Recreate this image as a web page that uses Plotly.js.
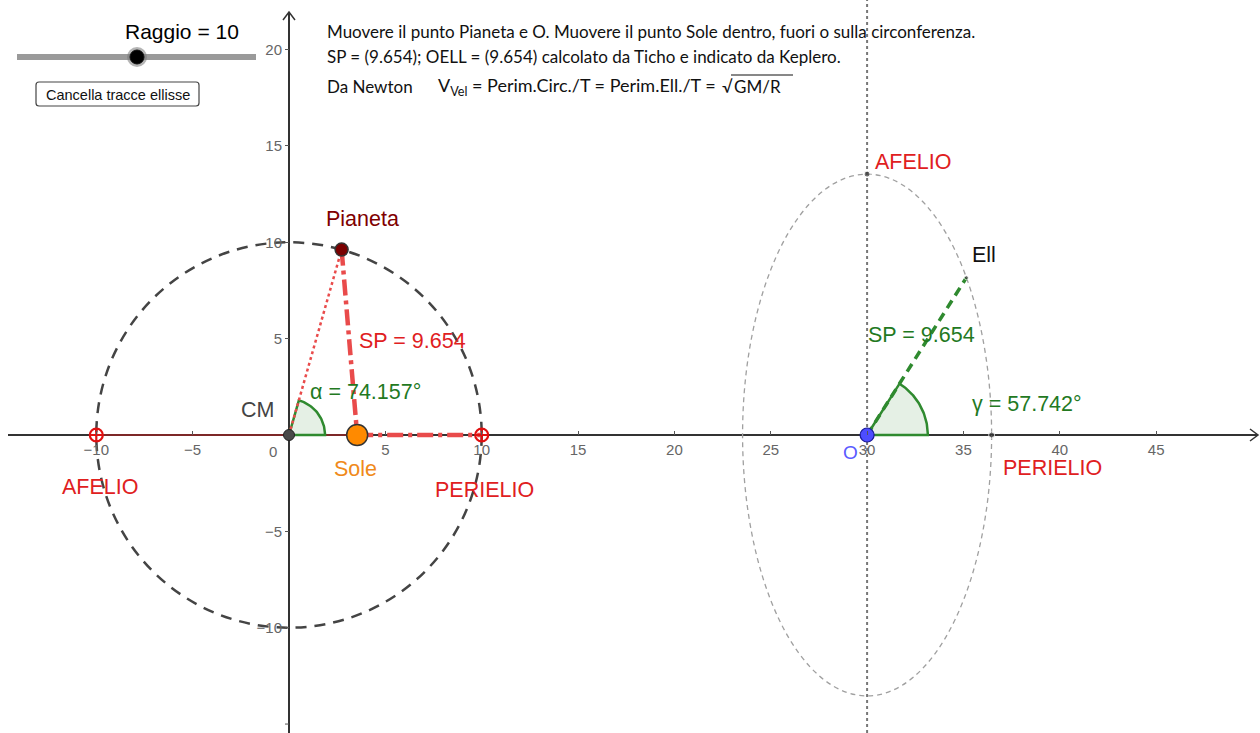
<!DOCTYPE html>
<html>
<head>
<meta charset="utf-8">
<script src="https://cdn.plot.ly/plotly-3.0.1.min.js"></script>
<style>html,body{margin:0;padding:0;background:#fff;} #chart{width:1260px;height:733px;}</style>
</head>
<body>
<div id="chart"></div>
<script>
// ---- data ----
const raggio = 10;            // circle radius R
const soleX = 3.538;          // Sole position on x axis
const alphaDeg = 74.157;      // angle α at CM
const gammaDeg = 57.742;      // angle γ at O
const spLen = 9.654;          // SP distance
const oX = 30;                // point O (ellipse centre)
const xTickVals = [-10, -5, 5, 10, 15, 20, 25, 30, 35, 40, 45];
const xTickText = ['−10', '−5', '5', '10', '15', '20', '25', '30', '35', '40', '45'];
const yTickVals = [-10, -5, 5, 10, 15, 20];
const yTickText = ['−10', '−5', '5', '10', '15', '20'];

// ---- derived geometry ----
const rad = d => d * Math.PI / 180;
const pianeta = [raggio * Math.cos(rad(alphaDeg)), raggio * Math.sin(rad(alphaDeg))];
const ell = [oX + spLen * Math.cos(rad(gammaDeg)), spLen * Math.sin(rad(gammaDeg))];
const ellA = raggio - soleX;   // horizontal semi-axis (perihelion distance)
const ellB = raggio + soleX;   // vertical semi-axis (aphelion distance)

// ---- pixel helpers for layout-only placement ----
const W = 1260, H = 733, PX = 19.27, X0 = 289, Y0 = 435;
const dx = p => (p - X0) / PX;
const dy = p => (Y0 - p) / PX;
const xr = [dx(0), dx(W)];
const yr = [dy(H), dy(0)];

function sector(cx, cy, r, a0, a1) {
  const xs = [cx], ys = [cy];
  const n = 40;
  for (let i = 0; i <= n; i++) {
    const a = rad(a0 + (a1 - a0) * i / n);
    xs.push(cx + r * Math.cos(a)); ys.push(cy + r * Math.sin(a));
  }
  xs.push(cx); ys.push(cy);
  return {x: xs, y: ys};
}

const GREEN = '#23791f', RED = '#e0201e', LRED = '#e94b4b';
const secA = sector(0, 0, 1.87, 0, alphaDeg);
const secG = sector(oX, 0, 3.15, 0, gammaDeg);

const traces = [
  {x: [-raggio, soleX], y: [0, 0], mode: 'lines', line: {color: '#c81e1e', width: 1.2}, hoverinfo: 'skip'},
  {x: secA.x, y: secA.y, mode: 'lines', fill: 'toself', fillcolor: 'rgba(0,110,0,0.10)', line: {color: '#2f8a2f', width: 2.5}, hoverinfo: 'skip'},
  {x: secG.x, y: secG.y, mode: 'lines', fill: 'toself', fillcolor: 'rgba(0,110,0,0.10)', line: {color: '#2f8a2f', width: 2.5}, hoverinfo: 'skip'},
  {x: [0, pianeta[0]], y: [0, pianeta[1]], mode: 'lines', line: {color: LRED, width: 2.5, dash: 'dot'}, hoverinfo: 'skip'},
  {x: [pianeta[0], soleX], y: [pianeta[1], 0], mode: 'lines', line: {color: LRED, width: 4.5, dash: '16px,5px,4px,5px'}, hoverinfo: 'skip'},
  {x: [soleX, raggio], y: [0, 0], mode: 'lines', line: {color: LRED, width: 4.5, dash: '16px,5px,4px,5px'}, hoverinfo: 'skip'},
  {x: [oX, ell[0]], y: [0, ell[1]], mode: 'lines', line: {color: '#2f8a2f', width: 3.5, dash: '9px,6px'}, hoverinfo: 'skip'},
  {x: [-raggio, raggio], y: [0, 0], mode: 'markers', marker: {symbol: 'circle-cross-open', size: 13, color: '#e01010', line: {width: 2.2, color: '#e01010'}}, hoverinfo: 'skip'},
  {x: [0], y: [0], mode: 'markers', marker: {size: 11, color: '#4a4a4a', line: {color: '#222', width: 1}}, hoverinfo: 'skip'},
  {x: [soleX], y: [0], mode: 'markers', marker: {size: 21, color: '#ff8a00', line: {color: '#333', width: 1.5}}, hoverinfo: 'skip'},
  {x: [pianeta[0]], y: [pianeta[1]], mode: 'markers', marker: {size: 13, color: '#7a0000', line: {color: '#333', width: 1.5}}, hoverinfo: 'skip'},
  {x: [oX, oX + ellA, ell[0]], y: [ellB, 0, ell[1]], mode: 'markers', marker: {size: [6, 6, 4], color: '#333'}, hoverinfo: 'skip'},
  {x: [oX], y: [0], mode: 'markers', marker: {size: 14, color: '#4d4dff', line: {color: '#1a1a99', width: 1.2}}, hoverinfo: 'skip'}
];

const LF = 'Liberation Sans, Arial, sans-serif';
const TF = 'Lato, Open Sans, sans-serif';
const LS = 21.5;
function lab(text, px, py, color, size, xanchor) {
  return {text: text, x: dx(px), y: dy(py), xref: 'x', yref: 'y', showarrow: false,
          xanchor: xanchor || 'center', yanchor: 'middle', font: {family: LF, size: size || LS, color: color}};
}
function ptxt(text, px, py, size, color, family, xanchor) {
  return {text: text, x: px / W, y: 1 - py / H, xref: 'paper', yref: 'paper', showarrow: false,
          xanchor: xanchor || 'left', yanchor: 'middle', font: {family: family || TF, size: size, color: color || '#111'}};
}

const annotations = [
  lab('Pianeta', 362, 219, '#7f0000'),
  lab('SP = 9.654', 412, 341, RED),
  lab('α = 74.157°', 365, 392, GREEN),
  lab('CM', 257, 410, '#444'),
  lab('Sole', 355, 469, '#f08a1a'),
  lab('PERIELIO', 484, 490, RED),
  lab('AFELIO', 100, 487, RED),
  lab('AFELIO', 873, 162, RED, LS, 'left'),
  lab('Ell', 984, 255, '#111'),
  lab('SP = 9.654', 866, 335, GREEN, LS, 'left'),
  lab('γ = 57.742°', 970, 404, GREEN, LS, 'left'),
  lab('PERIELIO', 1001, 468, RED, LS, 'left'),
  lab('O', 850, 452, '#5a5aff', 19),
  lab('0', 273, 451, '#666', 15),
  // slider + button
  ptxt('Raggio = 10', 182, 31, 21, '#000', LF, 'center'),
  ptxt('Cancella tracce ellisse', 118, 95, 14.5, '#111', LF, 'center'),
  // top texts
  ptxt('Muovere il punto Pianeta e O. Muovere il punto Sole dentro, fuori o sulla circonferenza.', 325, 31, 17),
  ptxt('SP = (9.654); OELL = (9.654) calcolato da Ticho e indicato da Keplero.', 325, 56, 17),
  ptxt('Da Newton', 325, 86, 17),
  ptxt('V<sub>Vel</sub> = Perim.Circ./T = Perim.Ell./T =', 718, 86, 18, '#111', TF, 'right'),
  ptxt('√', 720, 86, 17),
  ptxt('GM/R', 732, 86, 17)
];

function pshape(type, x0, y0, x1, y1, line, fill) {
  return {type: type, xref: 'paper', yref: 'paper', x0: x0 / W, x1: x1 / W, y0: 1 - y0 / H, y1: 1 - y1 / H,
          line: line, fillcolor: fill || 'rgba(0,0,0,0)', layer: 'above'};
}
function ppath(pts) {
  return pts.map((p, i) => (i ? 'L ' : 'M ') + (p[0] / W) + ',' + (1 - p[1] / H)).join(' ');
}
function roundRect(x0, y0, x1, y1, r) {
  const P = (x, y) => (x / W) + ',' + (1 - y / H);
  return 'M ' + P(x0 + r, y0) + ' L ' + P(x1 - r, y0) + ' Q ' + P(x1, y0) + ' ' + P(x1, y0 + r) +
         ' L ' + P(x1, y1 - r) + ' Q ' + P(x1, y1) + ' ' + P(x1 - r, y1) +
         ' L ' + P(x0 + r, y1) + ' Q ' + P(x0, y1) + ' ' + P(x0, y1 - r) +
         ' L ' + P(x0, y0 + r) + ' Q ' + P(x0, y0) + ' ' + P(x0 + r, y0) + ' Z';
}

const shapes = [
  // axes
  {type: 'line', xref: 'x', yref: 'y', x0: dx(8), x1: dx(1257), y0: 0, y1: 0, line: {color: '#333', width: 2}, layer: 'below'},
  {type: 'line', xref: 'x', yref: 'y', x0: 0, x1: 0, y0: dy(H), y1: dy(12), line: {color: '#333', width: 2}, layer: 'below'},
  // y = -15 tick
  {type: 'line', xref: 'x', yref: 'y', x0: dx(285), x1: 0, y0: -15, y1: -15, line: {color: '#555', width: 1}, layer: 'below'},
  // axis arrows
  {type: 'path', xref: 'paper', yref: 'paper', path: ppath([[1250, 429], [1258, 435], [1250, 441]]), line: {color: '#333', width: 1.5}, layer: 'below'},
  {type: 'path', xref: 'paper', yref: 'paper', path: ppath([[283, 20], [289, 12], [295, 20]]), line: {color: '#333', width: 1.5}, layer: 'below'},
  // vertical dotted line through O
  {type: 'line', xref: 'x', yref: 'y', x0: oX, x1: oX, y0: yr[0], y1: yr[1], line: {color: '#777', width: 2, dash: 'dot'}, layer: 'below'},
  // circle
  {type: 'circle', xref: 'x', yref: 'y', x0: -raggio, x1: raggio, y0: -raggio, y1: raggio, line: {color: '#444', width: 2.5, dash: '11px,8px'}, layer: 'below'},
  // ellipse
  {type: 'circle', xref: 'x', yref: 'y', x0: oX - ellA, x1: oX + ellA, y0: -ellB, y1: ellB, line: {color: '#a0a0a0', width: 1.3, dash: '5px,4px'}, layer: 'below'},
  // slider track
  pshape('line', 17, 57, 256, 57, {color: '#9a9a9a', width: 6}),
  pshape('circle', 127, 47, 147, 67, {color: 'rgba(0,0,0,0)', width: 0}, 'rgba(120,120,120,0.55)'),
  pshape('circle', 130, 50, 144, 64, {color: '#111', width: 1}, '#000'),
  // button
  {type: 'path', xref: 'paper', yref: 'paper', path: roundRect(36, 82, 199, 106, 3), line: {color: '#444', width: 1.2}, fillcolor: '#fff', layer: 'above'},
  // sqrt overline
  pshape('line', 731, 75, 793, 75, {color: '#111', width: 1})
];

const layout = {
  width: W, height: H, margin: {l: 0, r: 0, t: 0, b: 0, pad: 0},
  paper_bgcolor: '#fff', plot_bgcolor: '#fff', showlegend: false,
  xaxis: {range: xr, showgrid: false, zeroline: false, showline: false, anchor: 'free', position: (H - Y0) / H,
          tickmode: 'array', tickvals: xTickVals, ticktext: xTickText, ticks: 'inside', ticklen: 4, tickcolor: '#555',
          tickfont: {family: LF, size: 15, color: '#666'}, ticklabelstandoff: 4, fixedrange: true},
  yaxis: {range: yr, showgrid: false, zeroline: false, showline: false, anchor: 'free', position: X0 / W,
          tickmode: 'array', tickvals: yTickVals, ticktext: yTickText, ticks: 'outside', ticklen: 4, tickcolor: '#555',
          tickfont: {family: LF, size: 15, color: '#666'}, fixedrange: true},
  annotations: annotations,
  shapes: shapes
};

Plotly.newPlot('chart', traces, layout, {displayModeBar: false, staticPlot: true});
</script>
</body>
</html>
